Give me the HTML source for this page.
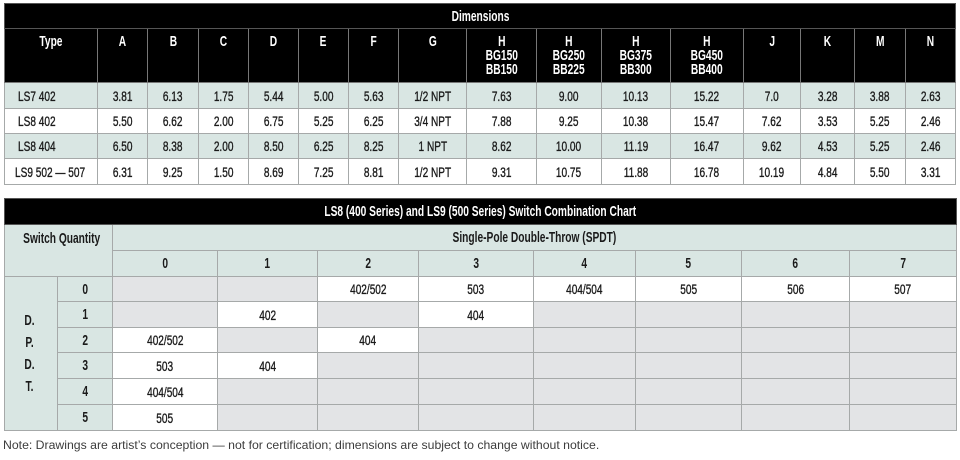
<!DOCTYPE html>
<html lang="en">
<head>
<meta charset="utf-8">
<title>Dimensions and Switch Combination Chart</title>
<style>
html,body{margin:0;padding:0;background:#fff}
body{width:960px;height:460px;position:relative;overflow:hidden;font-family:"Liberation Sans",sans-serif}
table{position:absolute;left:4px;border-collapse:collapse;table-layout:fixed;font-size:14px;color:#1a1a1a}
td,th{border:1px solid #a6a9a9;padding:0;text-align:center;vertical-align:middle;white-space:nowrap;overflow:visible;font-weight:normal}
td span,th span{display:inline-block;transform:scaleX(.72);-webkit-text-stroke:.35px #1a1a1a}
th{font-size:15px}
th span{font-weight:bold;transform:scaleX(.68);-webkit-text-stroke:0}
.title th{background:#000;color:#fff;border-color:#555}
.head th{background:#000;color:#fff;border-color:#777;vertical-align:top;padding-top:6px;line-height:14px}
.t{background:#d9e6e3}
.g{background:#e3e4e6}
.w{background:#fff}
td.l{text-align:left}
td.l span{transform-origin:left center}
#dim{top:3px;width:951px}
#combo{top:198px;width:952px}
#combo th{color:#1a1a1a}
#combo .title th{color:#fff}
#note{position:absolute;left:3px;top:438px;font-size:12.25px;line-height:15px;color:#3c3c3c;white-space:nowrap}
</style>
</head>
<body>
<table id="dim">
<colgroup><col style="width:93px"><col style="width:50px"><col style="width:51px"><col style="width:50px"><col style="width:50px"><col style="width:50px"><col style="width:50px"><col style="width:68px"><col style="width:70px"><col style="width:65px"><col style="width:69px"><col style="width:73px"><col style="width:57px"><col style="width:54px"><col style="width:51px"><col style="width:50px"></colgroup>
<tr class="title" style="height:25px"><th colspan="16"><span>Dimensions</span></th></tr>
<tr class="head" style="height:54px">
<th><span>Type</span></th>
<th><span>A</span></th>
<th><span>B</span></th>
<th><span>C</span></th>
<th><span>D</span></th>
<th><span>E</span></th>
<th><span>F</span></th>
<th><span>G</span></th>
<th><span>H<br>BG150<br>BB150</span></th>
<th><span>H<br>BG250<br>BB225</span></th>
<th><span>H<br>BG375<br>BB300</span></th>
<th><span>H<br>BG450<br>BB400</span></th>
<th><span>J</span></th>
<th><span>K</span></th>
<th><span>M</span></th>
<th><span>N</span></th>
</tr>
<tr class="t" style="height:26px">
<td class="l" style="padding-left:13px"><span>LS7 402</span></td>
<td><span>3.81</span></td>
<td><span>6.13</span></td>
<td><span>1.75</span></td>
<td><span>5.44</span></td>
<td><span>5.00</span></td>
<td><span>5.63</span></td>
<td><span>1/2 NPT</span></td>
<td><span>7.63</span></td>
<td><span>9.00</span></td>
<td><span>10.13</span></td>
<td><span>15.22</span></td>
<td><span>7.0</span></td>
<td><span>3.28</span></td>
<td><span>3.88</span></td>
<td><span>2.63</span></td>
</tr>
<tr class="w" style="height:25px">
<td class="l" style="padding-left:13px"><span>LS8 402</span></td>
<td><span>5.50</span></td>
<td><span>6.62</span></td>
<td><span>2.00</span></td>
<td><span>6.75</span></td>
<td><span>5.25</span></td>
<td><span>6.25</span></td>
<td><span>3/4 NPT</span></td>
<td><span>7.88</span></td>
<td><span>9.25</span></td>
<td><span>10.38</span></td>
<td><span>15.47</span></td>
<td><span>7.62</span></td>
<td><span>3.53</span></td>
<td><span>5.25</span></td>
<td><span>2.46</span></td>
</tr>
<tr class="t" style="height:25px">
<td class="l" style="padding-left:13px"><span>LS8 404</span></td>
<td><span>6.50</span></td>
<td><span>8.38</span></td>
<td><span>2.00</span></td>
<td><span>8.50</span></td>
<td><span>6.25</span></td>
<td><span>8.25</span></td>
<td><span>1 NPT</span></td>
<td><span>8.62</span></td>
<td><span>10.00</span></td>
<td><span>11.19</span></td>
<td><span>16.47</span></td>
<td><span>9.62</span></td>
<td><span>4.53</span></td>
<td><span>5.25</span></td>
<td><span>2.46</span></td>
</tr>
<tr class="w" style="height:26px">
<td class="l" style="padding-left:10px"><span>LS9 502 — 507</span></td>
<td><span>6.31</span></td>
<td><span>9.25</span></td>
<td><span>1.50</span></td>
<td><span>8.69</span></td>
<td><span>7.25</span></td>
<td><span>8.81</span></td>
<td><span>1/2 NPT</span></td>
<td><span>9.31</span></td>
<td><span>10.75</span></td>
<td><span>11.88</span></td>
<td><span>16.78</span></td>
<td><span>10.19</span></td>
<td><span>4.84</span></td>
<td><span>5.50</span></td>
<td><span>3.31</span></td>
</tr>
</table>

<table id="combo">
<colgroup><col style="width:53px"><col style="width:55px"><col style="width:105px"><col style="width:100px"><col style="width:101px"><col style="width:115px"><col style="width:102px"><col style="width:106px"><col style="width:108px"><col style="width:107px"></colgroup>
<tr class="title" style="height:26px"><th colspan="10"><span>LS8 (400 Series) and LS9 (500 Series) Switch Combination Chart</span></th></tr>
<tr class="t" style="height:26px">
<th colspan="2" rowspan="2" class="t" style="vertical-align:top;padding-top:5px"><span>Switch Quantity</span></th>
<th colspan="8"><span>Single-Pole Double-Throw (SPDT)</span></th>
</tr>
<tr class="t" style="height:26px">
<th><span>0</span></th>
<th><span>1</span></th>
<th><span>2</span></th>
<th><span>3</span></th>
<th><span>4</span></th>
<th><span>5</span></th>
<th><span>6</span></th>
<th><span>7</span></th>
</tr>
<tr style="height:25px">
<th rowspan="6" class="t" style="line-height:22px;padding-right:4px"><span>D.<br>P.<br>D.<br>T.</span></th>
<th class="t"><span>0</span></th>
<td class="g"></td>
<td class="g"></td>
<td class="w"><span>402/502</span></td>
<td class="w"><span>503</span></td>
<td class="w"><span>404/504</span></td>
<td class="w"><span>505</span></td>
<td class="w"><span>506</span></td>
<td class="w"><span>507</span></td>
</tr>
<tr style="height:26px">
<th class="t"><span>1</span></th>
<td class="g"></td>
<td class="w"><span>402</span></td>
<td class="g"></td>
<td class="w"><span>404</span></td>
<td class="g"></td>
<td class="g"></td>
<td class="g"></td>
<td class="g"></td>
</tr>
<tr style="height:25px">
<th class="t"><span>2</span></th>
<td class="w"><span>402/502</span></td>
<td class="g"></td>
<td class="w"><span>404</span></td>
<td class="g"></td>
<td class="g"></td>
<td class="g"></td>
<td class="g"></td>
<td class="g"></td>
</tr>
<tr style="height:26px">
<th class="t"><span>3</span></th>
<td class="w"><span>503</span></td>
<td class="w"><span>404</span></td>
<td class="g"></td>
<td class="g"></td>
<td class="g"></td>
<td class="g"></td>
<td class="g"></td>
<td class="g"></td>
</tr>
<tr style="height:26px">
<th class="t"><span>4</span></th>
<td class="w"><span>404/504</span></td>
<td class="g"></td>
<td class="g"></td>
<td class="g"></td>
<td class="g"></td>
<td class="g"></td>
<td class="g"></td>
<td class="g"></td>
</tr>
<tr style="height:26px">
<th class="t"><span>5</span></th>
<td class="w"><span>505</span></td>
<td class="g"></td>
<td class="g"></td>
<td class="g"></td>
<td class="g"></td>
<td class="g"></td>
<td class="g"></td>
<td class="g"></td>
</tr>
</table>
<div id="note">Note: Drawings are artist’s conception — not for certification; dimensions are subject to change without notice.</div>
</body>
</html>
